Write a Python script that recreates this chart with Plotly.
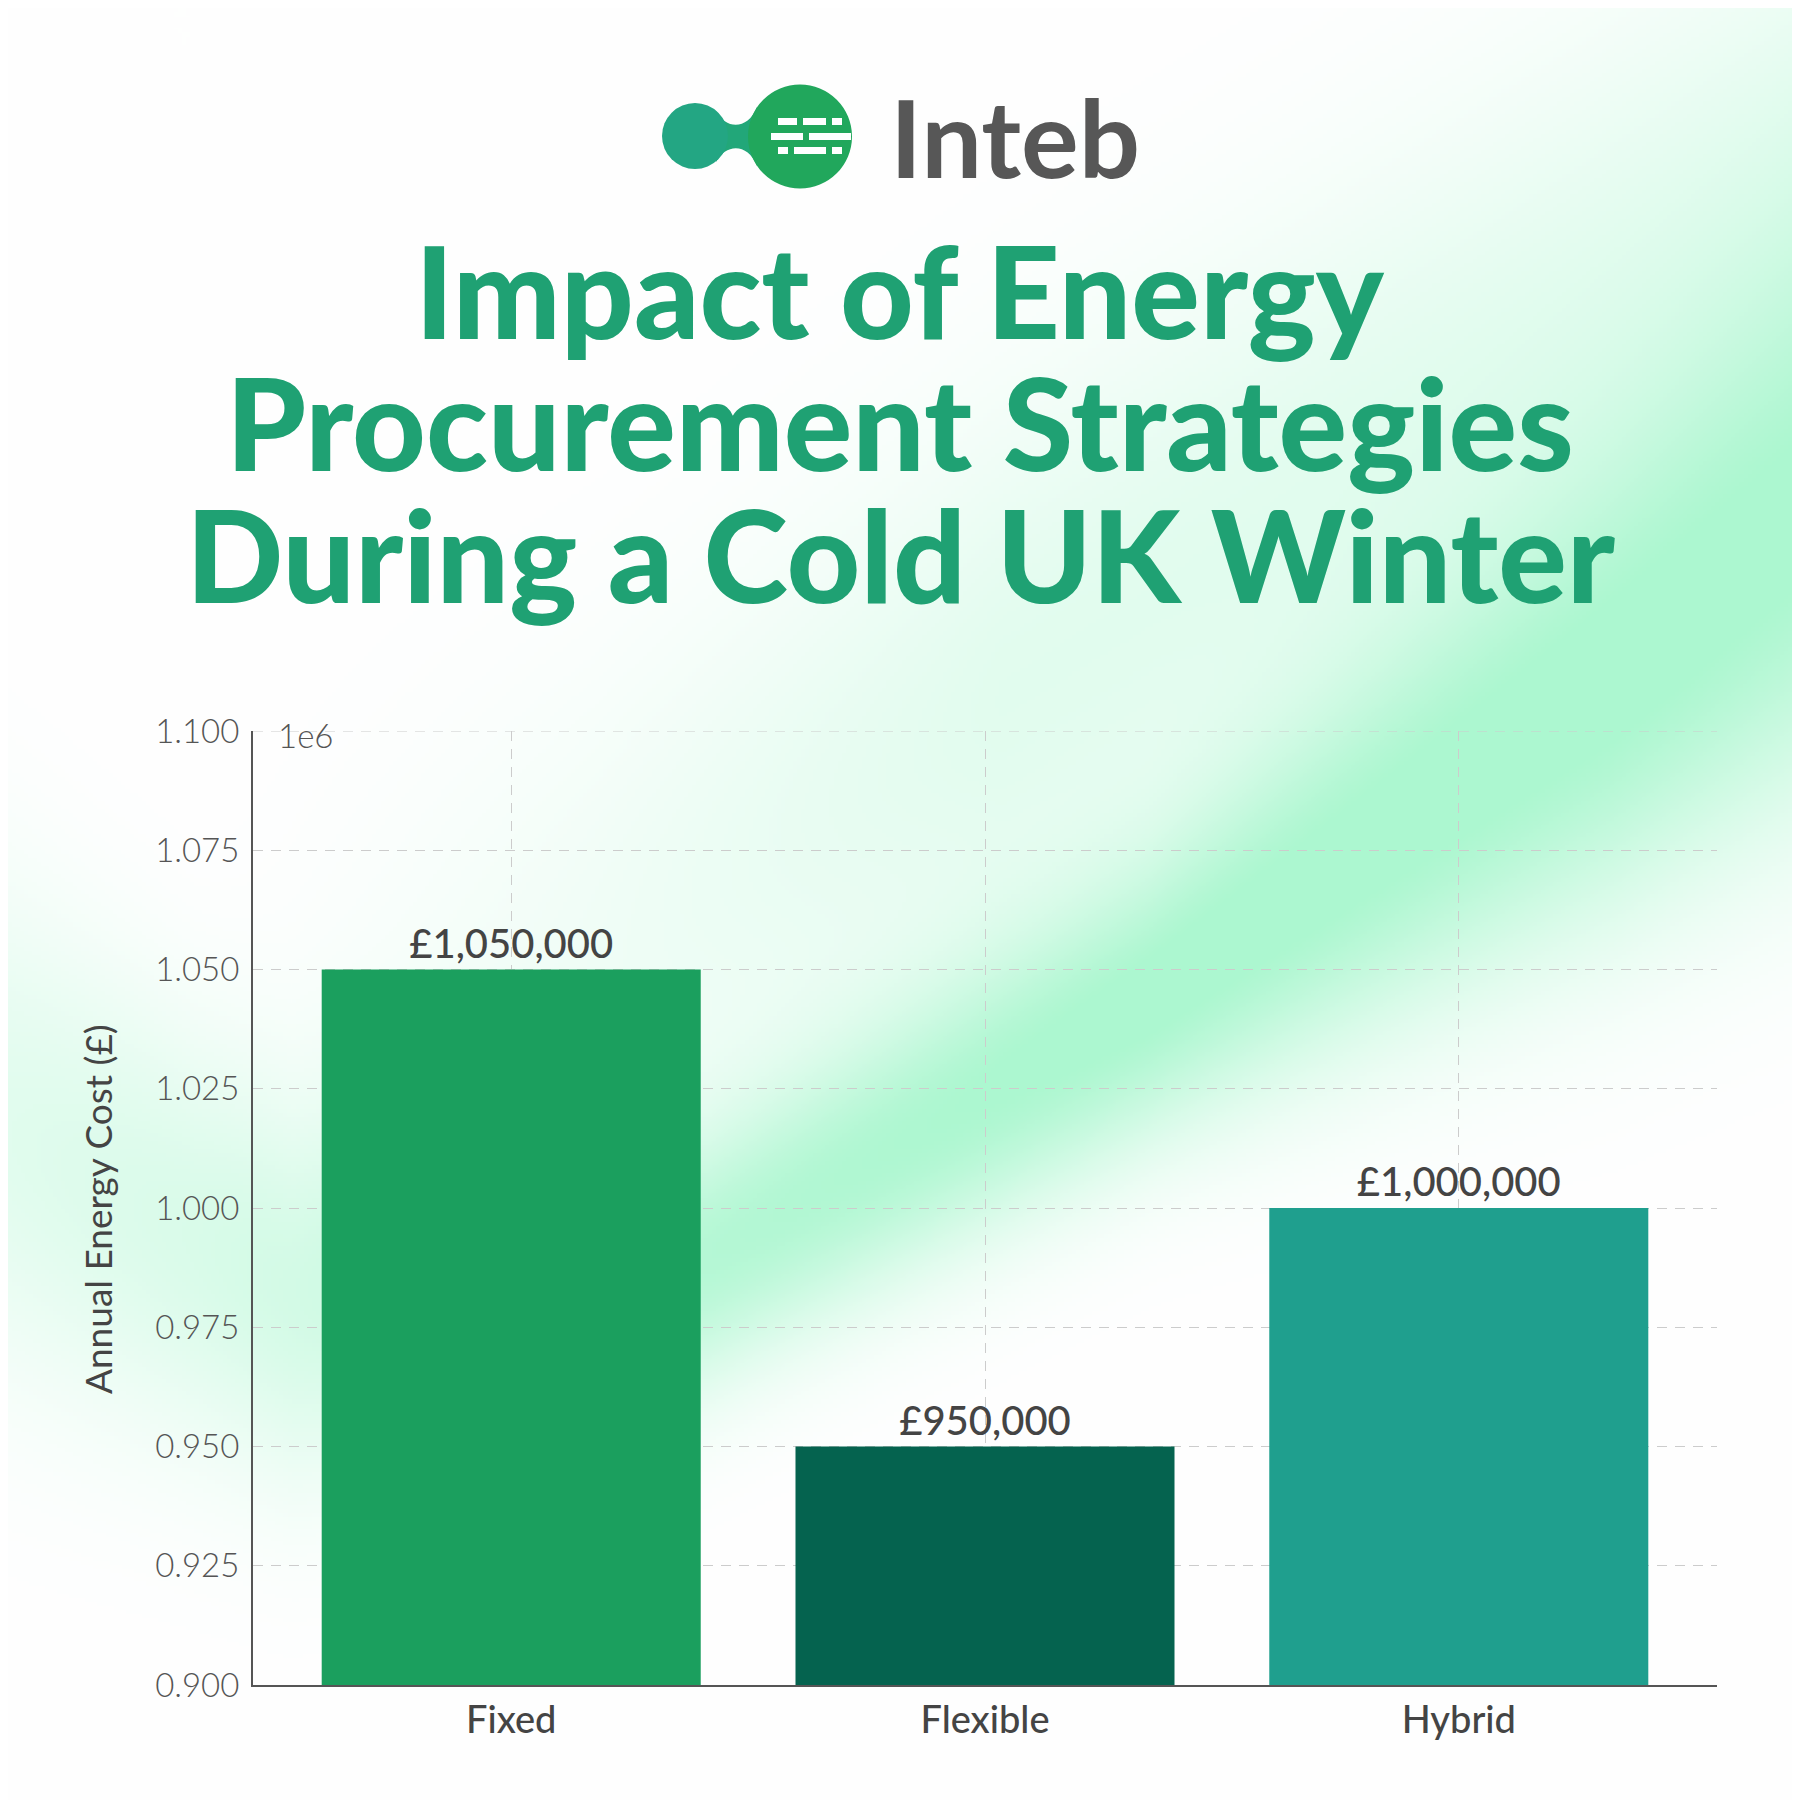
import base64, struct, zlib
import numpy as np
import plotly.graph_objects as go

# ---------------- data ----------------
categories = ["Fixed", "Flexible", "Hybrid"]
costs = [1050000, 950000, 1000000]
bar_colors = ["#1b9f5e", "#05634f", "#1f9f8e"]
tick_values = [900000, 925000, 950000, 975000, 1000000, 1025000, 1050000, 1075000, 1100000]
tick_labels = [f"{v / 1e6:.3f}" for v in tick_values]
title_lines = ["Impact of Energy", "Procurement Strategies", "During a Cold UK Winter"]
y_title = "Annual Energy Cost (£)"

# ---------------- geometry ----------------
W = H = 1800
OFF = 8  # page margin of the browser
L, R, T, B = 253, 83, 731, 115   # in screen pixels
PW, PH = W - L - R, H - T - B


def px(x):
    return (x - L) / PW


def py(y):
    return (H - B - y) / PH


# ---------------- background image ----------------
def make_bg(n=450):
    s = W / n
    xx = (np.arange(n) + 0.5) * s
    yy = (np.arange(n) + 0.5) * s
    X, Y = np.meshgrid(xx, yy)
    cx = [0, 300, 710, 1148, 1607, 1800]
    cy = [1120, 1290, 1255, 1000, 690, 540]
    sg = [170, 130, 90, 100, 160, 185]
    amp = [0.35, 0.5, 0.85, 1.0, 1.0, 0.95]
    c1 = np.interp(X, cx, cy)
    s1 = np.interp(X, cx, sg)
    a1 = np.interp(X, cx, amp)
    I = a1 * np.exp(-((Y - c1) ** 2) / (2 * s1 ** 2))
    c2 = np.interp(X, [0, 600, 1800], [1200, 950, 200])
    I2 = 0.35 * np.exp(-((Y - c2) ** 2) / (2 * 200 ** 2)) * np.clip((X - 200) / 800, 0, 1)
    I = np.clip(I + I2, 0, 1)
    peak = np.array([172, 247, 208], dtype=float)
    white = np.array([255, 255, 255], dtype=float)
    img = white[None, None, :] * (1 - I[..., None]) + peak[None, None, :] * I[..., None]
    arr = np.clip(img, 0, 255).astype(np.uint8)
    h, w, _ = arr.shape
    raw = b"".join(b"\x00" + arr[i].tobytes() for i in range(h))

    def chunk(tag, data):
        c = struct.pack(">I", len(data)) + tag + data
        return c + struct.pack(">I", zlib.crc32(tag + data) & 0xFFFFFFFF)

    png = b"\x89PNG\r\n\x1a\n" + chunk(b"IHDR", struct.pack(">IIBBBBB", w, h, 8, 2, 0, 0, 0))
    png += chunk(b"IDAT", zlib.compress(raw, 9)) + chunk(b"IEND", b"")
    return "data:image/png;base64," + base64.b64encode(png).decode()


fig = go.Figure()
fig.add_trace(go.Bar(
    x=categories, y=costs, width=0.8,
    marker=dict(color=bar_colors, line=dict(width=0)),
    texttemplate="£%{y:,.0f}", textposition="outside", cliponaxis=False,
    textfont=dict(family="Lato", size=40, color="#444444", weight=500),
    hoverinfo="skip",
))

fig.add_layout_image(dict(
    source=make_bg(), xref="paper", yref="paper",
    x=px(-10), y=py(-10), sizex=(W + 20) / PW, sizey=(H + 20) / PH,
    xanchor="left", yanchor="top", sizing="stretch", layer="below",
))

# ---------------- logo ----------------
shapes = []
def circ(cx, cy, r, col):
    shapes.append(dict(type="circle", xref="paper", yref="paper",
                       x0=px(cx - r), x1=px(cx + r), y0=py(cy + r), y1=py(cy - r),
                       fillcolor=col, line=dict(width=0), layer="above"))

def P(x, y):
    return f"{px(x):.5f},{py(y):.5f}"
neck = (f"M{P(716, 111)} C{P(726, 130)} {P(748, 130)} {P(757, 107)} "
        f"L{P(757, 166)} C{P(748, 143)} {P(726, 143)} {P(716, 162)} Z")
shapes.append(dict(type="path", xref="paper", yref="paper", path=neck,
                   fillcolor="#22a779", line=dict(width=0), layer="above"))
circ(695, 136, 33, "#23a683")
circ(800, 136.5, 52, "#21a75c")

dashes = [
    (121.5, [(778, 797), (803, 826), (832, 842)]),
    (136.5, [(771, 803), (809, 851)]),
    (150.5, [(778, 788), (794, 826), (832, 842)]),
]
for yv, segs in dashes:
    for a, b in segs:
        shapes.append(dict(type="line", xref="paper", yref="paper",
                           x0=px(a), x1=px(b), y0=py(yv), y1=py(yv),
                           line=dict(color="white", width=7), layer="above"))

# top grid line (plotly omits the grid line at the axis edge)
shapes.append(dict(type="line", xref="paper", yref="y", x0=0, x1=1,
                   y0=max(tick_values), y1=max(tick_values),
                   line=dict(color="#cccccc", width=1, dash="10px,8px"), layer="below"))

annotations = [
    dict(text="Inteb", x=px(888), y=py(136), xanchor="left", yanchor="middle",
         font=dict(family="Lato", size=108, color="#575757", weight=700)),
]
for i, line in enumerate(title_lines):
    annotations.append(dict(
        text=line, x=px(900), y=py(289 + i * 132), xanchor="center", yanchor="middle",
        font=dict(family="Lato", size=128, color="#1fa173", weight=900)))
annotations.append(dict(text="1e6", x=px(276), y=py(735), xanchor="left", yanchor="middle",
                        font=dict(family="Lato", size=33, color="#555555", weight=300)))
annotations.append(dict(text=y_title, x=px(97), y=py(1209), textangle=-90,
                        xanchor="center", yanchor="middle",
                        font=dict(family="Lato", size=37, color="#444444", weight=400)))
for a in annotations:
    a.update(xref="paper", yref="paper", showarrow=False)

fig.update_layout(
    width=W, height=H,
    margin=dict(l=L - OFF, r=R + OFF, t=T - OFF, b=B + OFF),
    paper_bgcolor="white", plot_bgcolor="rgba(0,0,0,0)",
    showlegend=False, shapes=shapes, annotations=annotations,
    bargap=0.2,
)
fig.update_xaxes(
    range=[-0.545, 2.545], showline=True, linecolor="#555555", linewidth=2,
    showgrid=True, gridcolor="#cccccc", griddash="10px,8px", gridwidth=1,
    ticks="", ticklabelstandoff=0,
    tickfont=dict(family="Lato", size=38, color="#444444", weight=500),
    zeroline=False,
)
fig.update_yaxes(
    range=[900000, 1100000], tickvals=tick_values, ticktext=tick_labels,
    showline=True, linecolor="#555555", linewidth=2,
    showgrid=True, gridcolor="#cccccc", griddash="10px,8px", gridwidth=1,
    ticks="", ticklabelstandoff=5, zeroline=False,
    tickfont=dict(family="Lato", size=33, color="#555555", weight=300),
)
fig.write_html("out.html")
